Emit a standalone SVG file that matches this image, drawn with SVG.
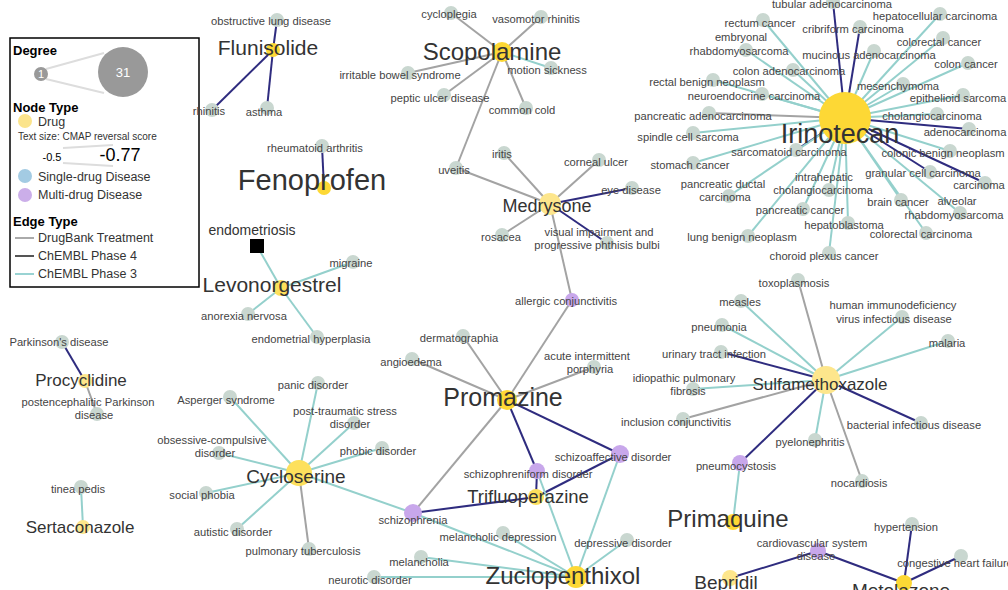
<svg xmlns="http://www.w3.org/2000/svg" width="1008" height="590" viewBox="0 0 1008 590">
<style>
text{font-family:"Liberation Sans",Arial,sans-serif}
.e{stroke-width:2;fill:none}
.g{stroke:#a3a3a3}
.n{stroke:#2f2c7f}
.c{stroke:#94d0cc}
.dn{fill:#c9d7d0}
.mn{fill:#c8a7eb}
.dl{font-size:11.2px;fill:#444;text-anchor:middle}
.drl{fill:#333;text-anchor:middle}
.bY{fill:#fdd835}
.mY{fill:#fde05c}
.lY{fill:#fde68c}
.lg{font-size:12.5px;fill:#333}
.lgb{font-size:13px;font-weight:bold;fill:#000}
</style>
<rect width="1008" height="590" fill="#fff"/>
<g id="legend">
<rect x="10" y="38" width="189" height="249" fill="#fff" stroke="#000" stroke-width="1.5"/>
<text x="13" y="55" class="lgb">Degree</text>
<line x1="46" y1="69" x2="104" y2="53" stroke="#ddd" stroke-width="2"/>
<line x1="46" y1="79" x2="104" y2="93" stroke="#ddd" stroke-width="2"/>
<circle cx="41" cy="74" r="7" fill="#999"/>
<text x="41" y="78" font-size="11" fill="#fff" text-anchor="middle">1</text>
<circle cx="123" cy="72" r="25" fill="#999"/>
<text x="123" y="77" font-size="13" fill="#fff" text-anchor="middle">31</text>
<text x="13" y="112" class="lgb">Node Type</text>
<circle cx="25" cy="121" r="7" fill="#fbe48c"/>
<text x="38" y="126" class="lg">Drug</text>
<text x="18" y="140" font-size="10" fill="#333">Text size: CMAP reversal score</text>
<line x1="63" y1="148" x2="113" y2="145" stroke="#ddd" stroke-width="2"/>
<line x1="63" y1="163" x2="113" y2="166" stroke="#ddd" stroke-width="2"/>
<text x="52" y="161" font-size="11" fill="#000" text-anchor="middle">-0.5</text>
<text x="120" y="161" font-size="18" fill="#000" text-anchor="middle">-0.77</text>
<circle cx="25" cy="176" r="7" fill="#a3cbe3"/>
<text x="38" y="181" class="lg">Single-drug Disease</text>
<circle cx="25" cy="195" r="7" fill="#cbaee9"/>
<text x="38" y="199" class="lg">Multi-drug Disease</text>
<text x="13" y="226" class="lgb">Edge Type</text>
<line x1="15" y1="238" x2="34" y2="238" stroke="#aaa" stroke-width="2"/>
<text x="38" y="242" class="lg">DrugBank Treatment</text>
<line x1="15" y1="256" x2="34" y2="256" stroke="#555" stroke-width="2"/>
<text x="38" y="260" class="lg">ChEMBL Phase 4</text>
<line x1="15" y1="274" x2="34" y2="274" stroke="#99d3d3" stroke-width="2"/>
<text x="38" y="278" class="lg">ChEMBL Phase 3</text>
</g>
<g id="edges">
<line class="e n" x1="273" y1="50" x2="277" y2="20"/>
<line class="e n" x1="273" y1="50" x2="212" y2="110"/>
<line class="e n" x1="273" y1="50" x2="267" y2="108"/>
<line class="e g" x1="502" y1="52" x2="451" y2="13"/>
<line class="e g" x1="502" y1="52" x2="541" y2="17"/>
<line class="e c" x1="502" y1="52" x2="551" y2="68"/>
<line class="e g" x1="502" y1="52" x2="408" y2="73"/>
<line class="e g" x1="502" y1="52" x2="444" y2="95"/>
<line class="e g" x1="502" y1="52" x2="526" y2="108"/>
<line class="e g" x1="502" y1="52" x2="456" y2="168"/>
<line class="e n" x1="845" y1="118" x2="833" y2="2"/>
<line class="e c" x1="845" y1="118" x2="763" y2="20"/>
<line class="e n" x1="845" y1="118" x2="860" y2="27"/>
<line class="e c" x1="845" y1="118" x2="940" y2="14"/>
<line class="e c" x1="845" y1="118" x2="746" y2="50"/>
<line class="e c" x1="845" y1="118" x2="874" y2="51"/>
<line class="e c" x1="845" y1="118" x2="943" y2="38"/>
<line class="e c" x1="845" y1="118" x2="968" y2="63"/>
<line class="e c" x1="845" y1="118" x2="793" y2="70"/>
<line class="e c" x1="845" y1="118" x2="903" y2="84"/>
<line class="e c" x1="845" y1="118" x2="713" y2="80"/>
<line class="e c" x1="845" y1="118" x2="762" y2="94"/>
<line class="e c" x1="845" y1="118" x2="963" y2="95"/>
<line class="e g" x1="845" y1="118" x2="709" y2="113"/>
<line class="e c" x1="845" y1="118" x2="937" y2="114"/>
<line class="e c" x1="845" y1="118" x2="693" y2="133"/>
<line class="e n" x1="845" y1="118" x2="969" y2="129"/>
<line class="e n" x1="845" y1="118" x2="796" y2="150"/>
<line class="e c" x1="845" y1="118" x2="693" y2="163"/>
<line class="e c" x1="845" y1="118" x2="950" y2="151"/>
<line class="e n" x1="845" y1="118" x2="930" y2="172"/>
<line class="e n" x1="845" y1="118" x2="985" y2="183"/>
<line class="e c" x1="845" y1="118" x2="829" y2="190"/>
<line class="e c" x1="845" y1="118" x2="729" y2="196"/>
<line class="e c" x1="845" y1="118" x2="901" y2="200"/>
<line class="e c" x1="845" y1="118" x2="960" y2="213"/>
<line class="e c" x1="845" y1="118" x2="803" y2="209"/>
<line class="e c" x1="845" y1="118" x2="848" y2="223"/>
<line class="e c" x1="845" y1="118" x2="926" y2="233"/>
<line class="e c" x1="845" y1="118" x2="748" y2="236"/>
<line class="e c" x1="845" y1="118" x2="829" y2="253"/>
<line class="e n" x1="324" y1="188" x2="322" y2="146"/>
<line class="e g" x1="550" y1="204" x2="456" y2="168"/>
<line class="e g" x1="550" y1="204" x2="504" y2="153"/>
<line class="e g" x1="550" y1="204" x2="599" y2="160"/>
<line class="e n" x1="550" y1="204" x2="632" y2="188"/>
<line class="e g" x1="550" y1="204" x2="502" y2="235"/>
<line class="e n" x1="550" y1="204" x2="607" y2="243"/>
<line class="e g" x1="550" y1="204" x2="572" y2="300"/>
<line class="e c" x1="281" y1="288" x2="257" y2="246"/>
<line class="e c" x1="281" y1="288" x2="353" y2="262"/>
<line class="e c" x1="281" y1="288" x2="248" y2="314"/>
<line class="e c" x1="281" y1="288" x2="317" y2="337"/>
<line class="e g" x1="826" y1="380" x2="798" y2="280"/>
<line class="e c" x1="826" y1="380" x2="741" y2="301"/>
<line class="e c" x1="826" y1="380" x2="902" y2="317"/>
<line class="e c" x1="826" y1="380" x2="722" y2="325"/>
<line class="e c" x1="826" y1="380" x2="948" y2="341"/>
<line class="e n" x1="826" y1="380" x2="721" y2="352"/>
<line class="e c" x1="826" y1="380" x2="693" y2="389"/>
<line class="e g" x1="826" y1="380" x2="683" y2="419"/>
<line class="e n" x1="826" y1="380" x2="921" y2="423"/>
<line class="e c" x1="826" y1="380" x2="815" y2="440"/>
<line class="e n" x1="826" y1="380" x2="740" y2="463"/>
<line class="e g" x1="826" y1="380" x2="862" y2="481"/>
<line class="e g" x1="507" y1="400" x2="463" y2="336"/>
<line class="e g" x1="507" y1="400" x2="412" y2="359"/>
<line class="e g" x1="507" y1="400" x2="594" y2="367"/>
<line class="e g" x1="507" y1="400" x2="572" y2="300"/>
<line class="e n" x1="507" y1="400" x2="620" y2="454"/>
<line class="e n" x1="507" y1="400" x2="537" y2="471"/>
<line class="e g" x1="507" y1="400" x2="413" y2="513"/>
<line class="e n" x1="536" y1="497" x2="413" y2="513"/>
<line class="e n" x1="536" y1="497" x2="537" y2="471"/>
<line class="e n" x1="536" y1="497" x2="620" y2="454"/>
<line class="e c" x1="299" y1="473" x2="318" y2="383"/>
<line class="e c" x1="299" y1="473" x2="230" y2="397"/>
<line class="e c" x1="299" y1="473" x2="354" y2="423"/>
<line class="e c" x1="299" y1="473" x2="219" y2="453"/>
<line class="e c" x1="299" y1="473" x2="382" y2="448"/>
<line class="e c" x1="299" y1="473" x2="206" y2="493"/>
<line class="e c" x1="299" y1="473" x2="237" y2="529"/>
<line class="e g" x1="299" y1="473" x2="309" y2="549"/>
<line class="e c" x1="299" y1="473" x2="413" y2="513"/>
<line class="e c" x1="576" y1="577" x2="413" y2="513"/>
<line class="e c" x1="576" y1="577" x2="503" y2="533"/>
<line class="e c" x1="576" y1="577" x2="627" y2="540"/>
<line class="e c" x1="576" y1="577" x2="421" y2="557"/>
<line class="e c" x1="576" y1="577" x2="374" y2="577"/>
<line class="e c" x1="576" y1="577" x2="537" y2="471"/>
<line class="e c" x1="576" y1="577" x2="620" y2="454"/>
<line class="e c" x1="733" y1="522" x2="740" y2="463"/>
<line class="e n" x1="730" y1="578" x2="818" y2="551"/>
<line class="e n" x1="904" y1="583" x2="818" y2="551"/>
<line class="e n" x1="904" y1="583" x2="912" y2="524"/>
<line class="e n" x1="904" y1="583" x2="961" y2="556"/>
<line class="e n" x1="85" y1="381" x2="62" y2="342"/>
<line class="e g" x1="85" y1="381" x2="97" y2="414"/>
<line class="e c" x1="83" y1="527" x2="81" y2="487"/>
</g>
<g id="diseases">
<g id="n-obstructive-lung-disease"><circle class="dn" cx="277" cy="20" r="7"/><text class="dl" x="271" y="25">obstructive lung disease</text></g>
<g id="n-rhinitis"><circle class="dn" cx="212" cy="110" r="7"/><text class="dl" x="209" y="115">rhinitis</text></g>
<g id="n-asthma"><circle class="dn" cx="267" cy="108" r="7"/><text class="dl" x="264" y="116">asthma</text></g>
<g id="n-cycloplegia"><circle class="dn" cx="451" cy="13" r="7"/><text class="dl" x="449" y="18">cycloplegia</text></g>
<g id="n-vasomotor-rhinitis"><circle class="dn" cx="541" cy="17" r="7"/><text class="dl" x="536" y="23">vasomotor rhinitis</text></g>
<g id="n-motion-sickness"><circle class="dn" cx="551" cy="68" r="7"/><text class="dl" x="547" y="74">motion sickness</text></g>
<g id="n-ibs"><circle class="dn" cx="408" cy="73" r="7"/><text class="dl" x="400" y="79">irritable bowel syndrome</text></g>
<g id="n-peptic-ulcer"><circle class="dn" cx="444" cy="95" r="7"/><text class="dl" x="440" y="102">peptic ulcer disease</text></g>
<g id="n-common-cold"><circle class="dn" cx="526" cy="108" r="7"/><text class="dl" x="522" y="114">common cold</text></g>
<g id="n-tubular-adenocarcinoma"><circle class="dn" cx="833" cy="2" r="7"/><text class="dl" x="832" y="8">tubular adenocarcinoma</text></g>
<g id="n-rectum-cancer"><circle class="dn" cx="763" cy="20" r="7"/><text class="dl" x="760" y="27">rectum cancer</text></g>
<g id="n-cribriform"><circle class="dn" cx="860" cy="27" r="7"/><text class="dl" x="853" y="33">cribriform carcinoma</text></g>
<g id="n-hepatocellular"><circle class="dn" cx="940" cy="14" r="7"/><text class="dl" x="935" y="20">hepatocellular carcinoma</text></g>
<g id="n-embryonal"><circle class="dn" cx="746" cy="50" r="7"/><text class="dl" x="741" y="41">embryonal</text><text class="dl" x="739" y="55">rhabdomyosarcoma</text></g>
<g id="n-mucinous"><circle class="dn" cx="874" cy="51" r="7"/><text class="dl" x="869" y="59">mucinous adenocarcinoma</text></g>
<g id="n-colorectal-cancer"><circle class="dn" cx="943" cy="38" r="7"/><text class="dl" x="939" y="46">colorectal cancer</text></g>
<g id="n-colon-cancer"><circle class="dn" cx="968" cy="63" r="7"/><text class="dl" x="966" y="68">colon cancer</text></g>
<g id="n-colon-adenocarcinoma"><circle class="dn" cx="793" cy="70" r="7"/><text class="dl" x="789" y="75">colon adenocarcinoma</text></g>
<g id="n-mesenchymoma"><circle class="dn" cx="903" cy="84" r="7"/><text class="dl" x="898" y="90">mesenchymoma</text></g>
<g id="n-rectal-benign"><circle class="dn" cx="713" cy="80" r="7"/><text class="dl" x="707" y="86">rectal benign neoplasm</text></g>
<g id="n-neuroendocrine"><circle class="dn" cx="762" cy="94" r="7"/><text class="dl" x="754" y="100">neuroendocrine carcinoma</text></g>
<g id="n-epithelioid"><circle class="dn" cx="963" cy="95" r="7"/><text class="dl" x="958" y="102">epithelioid sarcoma</text></g>
<g id="n-pancreatic-adeno"><circle class="dn" cx="709" cy="113" r="7"/><text class="dl" x="703" y="120">pancreatic adenocarcinoma</text></g>
<g id="n-cholangio"><circle class="dn" cx="937" cy="114" r="7"/><text class="dl" x="932" y="120">cholangiocarcinoma</text></g>
<g id="n-spindle"><circle class="dn" cx="693" cy="133" r="7"/><text class="dl" x="688" y="141">spindle cell sarcoma</text></g>
<g id="n-adenocarcinoma"><circle class="dn" cx="969" cy="129" r="7"/><text class="dl" x="965" y="136">adenocarcinoma</text></g>
<g id="n-sarcomatoid"><circle class="dn" cx="796" cy="150" r="7"/><text class="dl" x="789" y="156">sarcomatoid carcinoma</text></g>
<g id="n-stomach"><circle class="dn" cx="693" cy="163" r="7"/><text class="dl" x="690" y="169">stomach cancer</text></g>
<g id="n-colonic-benign"><circle class="dn" cx="950" cy="151" r="7"/><text class="dl" x="943" y="157">colonic benign neoplasm</text></g>
<g id="n-granular"><circle class="dn" cx="930" cy="172" r="7"/><text class="dl" x="923" y="177">granular cell carcinoma</text></g>
<g id="n-carcinoma"><circle class="dn" cx="985" cy="183" r="7"/><text class="dl" x="979" y="189">carcinoma</text></g>
<g id="n-intrahepatic"><circle class="dn" cx="829" cy="190" r="7"/><text class="dl" x="824" y="181">intrahepatic</text><text class="dl" x="823" y="194">cholangiocarcinoma</text></g>
<g id="n-pancreatic-ductal"><circle class="dn" cx="729" cy="196" r="7"/><text class="dl" x="723" y="188">pancreatic ductal</text><text class="dl" x="725" y="201">carcinoma</text></g>
<g id="n-brain"><circle class="dn" cx="901" cy="200" r="7"/><text class="dl" x="898" y="206">brain cancer</text></g>
<g id="n-alveolar"><circle class="dn" cx="960" cy="213" r="7"/><text class="dl" x="957" y="205">alveolar</text><text class="dl" x="954" y="219">rhabdomyosarcoma</text></g>
<g id="n-pancreatic-cancer"><circle class="dn" cx="803" cy="209" r="7"/><text class="dl" x="800" y="214">pancreatic cancer</text></g>
<g id="n-hepatoblastoma"><circle class="dn" cx="848" cy="223" r="7"/><text class="dl" x="844" y="229">hepatoblastoma</text></g>
<g id="n-colorectal-carcinoma"><circle class="dn" cx="926" cy="233" r="7"/><text class="dl" x="921" y="238">colorectal carcinoma</text></g>
<g id="n-lung-benign"><circle class="dn" cx="748" cy="236" r="7"/><text class="dl" x="742" y="241">lung benign neoplasm</text></g>
<g id="n-choroid"><circle class="dn" cx="829" cy="253" r="7"/><text class="dl" x="824" y="260">choroid plexus cancer</text></g>
<g id="n-rheumatoid"><circle class="dn" cx="322" cy="146" r="7"/><text class="dl" x="315" y="152">rheumatoid arthritis</text></g>
<g id="n-uveitis"><circle class="dn" cx="456" cy="168" r="7"/><text class="dl" x="454" y="174">uveitis</text></g>
<g id="n-iritis"><circle class="dn" cx="504" cy="153" r="7"/><text class="dl" x="502" y="158">iritis</text></g>
<g id="n-corneal-ulcer"><circle class="dn" cx="599" cy="160" r="7"/><text class="dl" x="596" y="166">corneal ulcer</text></g>
<g id="n-eye-disease"><circle class="dn" cx="632" cy="188" r="7"/><text class="dl" x="631" y="194">eye disease</text></g>
<g id="n-rosacea"><circle class="dn" cx="502" cy="235" r="7"/><text class="dl" x="501" y="241">rosacea</text></g>
<g id="n-visual"><circle class="dn" cx="607" cy="243" r="7"/><text class="dl" x="599" y="236">visual impairment and</text><text class="dl" x="597" y="249">progressive phthisis bulbi</text></g>
<g id="n-allergic-conj"><circle class="mn" cx="572" cy="300" r="7"/><text class="dl" x="566" y="305">allergic conjunctivitis</text></g>
<g id="n-endometriosis"><rect x="250" y="239" width="14" height="14" fill="#000"/><text x="252" y="235" font-size="14" fill="#333" text-anchor="middle">endometriosis</text></g>
<g id="n-migraine"><circle class="dn" cx="353" cy="262" r="7"/><text class="dl" x="351" y="267">migraine</text></g>
<g id="n-anorexia"><circle class="dn" cx="248" cy="314" r="7"/><text class="dl" x="244" y="320">anorexia nervosa</text></g>
<g id="n-endometrial"><circle class="dn" cx="317" cy="337" r="7"/><text class="dl" x="311" y="343">endometrial hyperplasia</text></g>
<g id="n-toxoplasmosis"><circle class="dn" cx="798" cy="280" r="7"/><text class="dl" x="794" y="287">toxoplasmosis</text></g>
<g id="n-measles"><circle class="dn" cx="741" cy="301" r="7"/><text class="dl" x="740" y="306">measles</text></g>
<g id="n-hiv"><circle class="dn" cx="902" cy="317" r="7"/><text class="dl" x="893" y="309">human immunodeficiency</text><text class="dl" x="894" y="323">virus infectious disease</text></g>
<g id="n-pneumonia"><circle class="dn" cx="722" cy="325" r="7"/><text class="dl" x="719" y="331">pneumonia</text></g>
<g id="n-malaria"><circle class="dn" cx="948" cy="341" r="7"/><text class="dl" x="947" y="347">malaria</text></g>
<g id="n-uti"><circle class="dn" cx="721" cy="352" r="7"/><text class="dl" x="714" y="358">urinary tract infection</text></g>
<g id="n-ipf"><circle class="dn" cx="693" cy="389" r="7"/><text class="dl" x="684" y="382">idiopathic pulmonary</text><text class="dl" x="688" y="395">fibrosis</text></g>
<g id="n-inclusion"><circle class="dn" cx="683" cy="419" r="7"/><text class="dl" x="676" y="426">inclusion conjunctivitis</text></g>
<g id="n-bacterial"><circle class="dn" cx="921" cy="423" r="7"/><text class="dl" x="914" y="429">bacterial infectious disease</text></g>
<g id="n-pyelonephritis"><circle class="dn" cx="815" cy="440" r="7"/><text class="dl" x="810" y="446">pyelonephritis</text></g>
<g id="n-pneumocystosis"><circle class="mn" cx="740" cy="463" r="8"/><text class="dl" x="736" y="470">pneumocystosis</text></g>
<g id="n-nocardiosis"><circle class="dn" cx="862" cy="481" r="7"/><text class="dl" x="859" y="487">nocardiosis</text></g>
<g id="n-dermatographia"><circle class="dn" cx="463" cy="336" r="7"/><text class="dl" x="459" y="342">dermatographia</text></g>
<g id="n-angioedema"><circle class="dn" cx="412" cy="359" r="7"/><text class="dl" x="411" y="366">angioedema</text></g>
<g id="n-porphyria"><circle class="dn" cx="594" cy="367" r="7"/><text class="dl" x="587" y="360">acute intermittent</text><text class="dl" x="590" y="373">porphyria</text></g>
<g id="n-schizoaffective"><circle class="mn" cx="620" cy="454" r="9"/><text class="dl" x="613" y="461">schizoaffective disorder</text></g>
<g id="n-schizophreniform"><circle class="mn" cx="537" cy="471" r="8"/><text class="dl" x="528" y="478">schizophreniform disorder</text></g>
<g id="n-schizophrenia"><circle class="mn" cx="413" cy="513" r="9"/><text class="dl" x="413" y="524">schizophrenia</text></g>
<g id="n-panic"><circle class="dn" cx="318" cy="383" r="7"/><text class="dl" x="313" y="389">panic disorder</text></g>
<g id="n-asperger"><circle class="dn" cx="230" cy="397" r="7"/><text class="dl" x="226" y="404">Asperger syndrome</text></g>
<g id="n-ptsd"><circle class="dn" cx="354" cy="423" r="7"/><text class="dl" x="345" y="415">post-traumatic stress</text><text class="dl" x="350" y="428">disorder</text></g>
<g id="n-ocd"><circle class="dn" cx="219" cy="453" r="7"/><text class="dl" x="212" y="444">obsessive-compulsive</text><text class="dl" x="215" y="457">disorder</text></g>
<g id="n-phobic"><circle class="dn" cx="382" cy="448" r="7"/><text class="dl" x="378" y="455">phobic disorder</text></g>
<g id="n-social-phobia"><circle class="dn" cx="206" cy="493" r="7"/><text class="dl" x="202" y="499">social phobia</text></g>
<g id="n-autistic"><circle class="dn" cx="237" cy="529" r="7"/><text class="dl" x="233" y="536">autistic disorder</text></g>
<g id="n-pulm-tb"><circle class="dn" cx="309" cy="549" r="7"/><text class="dl" x="303" y="555">pulmonary tuberculosis</text></g>
<g id="n-melancholic"><circle class="dn" cx="503" cy="533" r="7"/><text class="dl" x="498" y="541">melancholic depression</text></g>
<g id="n-depressive"><circle class="dn" cx="627" cy="540" r="7"/><text class="dl" x="623" y="547">depressive disorder</text></g>
<g id="n-melancholia"><circle class="dn" cx="421" cy="557" r="7"/><text class="dl" x="419" y="566">melancholia</text></g>
<g id="n-neurotic"><circle class="dn" cx="374" cy="577" r="7"/><text class="dl" x="370" y="584">neurotic disorder</text></g>
<g id="n-hypertension"><circle class="dn" cx="912" cy="524" r="7"/><text class="dl" x="906" y="531">hypertension</text></g>
<g id="n-cardiovascular"><circle class="mn" cx="818" cy="551" r="8"/><text class="dl" x="812" y="547">cardiovascular system</text><text class="dl" x="816" y="560">disease</text></g>
<g id="n-chf"><circle class="dn" cx="961" cy="556" r="7"/><text class="dl" x="955" y="567">congestive heart failure</text></g>
<g id="n-parkinsons"><circle class="dn" cx="62" cy="342" r="7"/><text class="dl" x="59" y="346">Parkinson's disease</text></g>
<g id="n-postencephalitic"><circle class="dn" cx="97" cy="414" r="7"/><text class="dl" x="88" y="406">postencephalitic Parkinson</text><text class="dl" x="94" y="419">disease</text></g>
<g id="n-tinea"><circle class="dn" cx="81" cy="487" r="7"/><text class="dl" x="78" y="493">tinea pedis</text></g>
</g>
<g id="drugs">
<g id="d-flunisolide"><circle class="bY" cx="273" cy="50" r="7"/><text class="drl" x="268" y="55" font-size="21">Flunisolide</text></g>
<g id="d-scopolamine"><circle class="bY" cx="502" cy="52" r="10"/><text class="drl" x="492" y="60" font-size="24">Scopolamine</text></g>
<g id="d-irinotecan"><circle class="bY" cx="845" cy="118" r="26"/><text class="drl" x="840" y="143" font-size="27">Irinotecan</text></g>
<g id="d-fenoprofen"><circle class="bY" cx="324" cy="188" r="7"/><text class="drl" x="312" y="190" font-size="29">Fenoprofen</text></g>
<g id="d-medrysone"><circle class="lY" cx="550" cy="204" r="11"/><text class="drl" x="547" y="212" font-size="18">Medrysone</text></g>
<g id="d-levonorgestrel"><circle class="mY" cx="281" cy="288" r="8"/><text class="drl" x="272" y="292" font-size="21">Levonorgestrel</text></g>
<g id="d-sulfamethoxazole"><circle class="lY" cx="826" cy="380" r="14"/><text class="drl" x="820" y="390" font-size="17">Sulfamethoxazole</text></g>
<g id="d-promazine"><circle class="bY" cx="507" cy="400" r="10"/><text class="drl" x="503" y="406" font-size="25">Promazine</text></g>
<g id="d-cycloserine"><circle class="mY" cx="299" cy="473" r="13"/><text class="drl" x="296" y="483" font-size="19">Cycloserine</text></g>
<g id="d-trifluoperazine"><circle class="mY" cx="536" cy="497" r="8"/><text class="drl" x="528" y="503" font-size="18.5">Trifluoperazine</text></g>
<g id="d-primaquine"><circle class="bY" cx="733" cy="522" r="8"/><text class="drl" x="728" y="527" font-size="24">Primaquine</text></g>
<g id="d-zuclopenthixol"><circle class="bY" cx="576" cy="577" r="11"/><text class="drl" x="563" y="584" font-size="24">Zuclopenthixol</text></g>
<g id="d-bepridil"><circle class="lY" cx="730" cy="578" r="8"/><text class="drl" x="726" y="589" font-size="19">Bepridil</text></g>
<g id="d-metolazone"><circle class="bY" cx="904" cy="583" r="8"/><text class="drl" x="901" y="597" font-size="19">Metolazone</text></g>
<g id="d-procyclidine"><circle class="lY" cx="85" cy="381" r="7"/><text class="drl" x="81" y="386" font-size="17">Procyclidine</text></g>
<g id="d-sertaconazole"><circle class="lY" cx="83" cy="527" r="7"/><text class="drl" x="80" y="533" font-size="17">Sertaconazole</text></g>
</g>
</svg>
